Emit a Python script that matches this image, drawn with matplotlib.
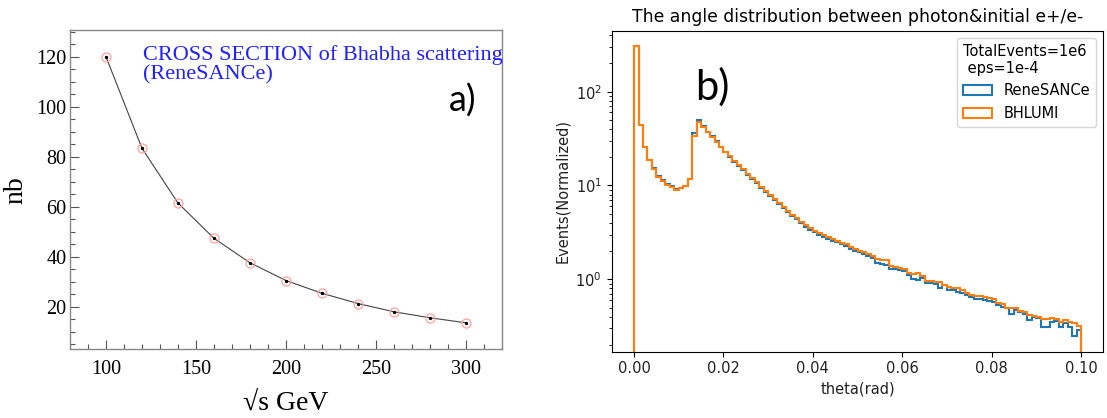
import matplotlib
matplotlib.use('Agg')
import matplotlib.pyplot as plt
import numpy as np
from matplotlib.patches import Patch
from matplotlib.ticker import MultipleLocator

# ---- panel a) : Bhabha cross section ----
sqrt_s = [100, 120, 140, 160, 180, 200, 220, 240, 260, 280, 300]
xsec_nb = [120.0, 83.4, 61.5, 47.4, 37.6, 30.5, 25.4, 21.3, 18.0, 15.6, 13.6]

# ---- panel b) : photon angle histogram, 100 bins on [0, 0.1] ----
theta_lo, theta_hi, n_bins = 0.0, 0.1, 100
renesance = [
    310, 44.0, 25.8, 18.8, 15.2, 12.6, 11.4, 10.3, 9.8, 9.1,
    9.3, 9.8, 11.6, 36.0, 50.0, 43.5, 37.5, 33.5, 29.5, 25.8,
    22.5, 20.0, 17.9, 16.1, 14.6, 13.0, 11.7, 10.5, 9.4, 8.45,
    7.65, 6.95, 6.3, 5.7, 5.2, 4.75, 4.35, 3.95, 3.62, 3.38,
    3.18, 3.0, 2.85, 2.7, 2.58, 2.48, 2.36, 2.24, 2.12, 2.02,
    1.93, 1.87, 1.78, 1.68, 1.5, 1.45, 1.42, 1.3, 1.28, 1.26,
    1.22, 1.1, 1.0, 0.98, 1.02, 0.92, 0.91, 0.89, 0.8, 0.86,
    0.77, 0.76, 0.74, 0.72, 0.68, 0.64, 0.62, 0.61, 0.6, 0.59,
    0.57, 0.53, 0.51, 0.49, 0.43, 0.47, 0.45, 0.43, 0.37, 0.4,
    0.39, 0.31, 0.31, 0.35, 0.355, 0.31, 0.34, 0.31, 0.25, 0.29,
]
bhlumi = [
    310, 44.5, 25.5, 18.6, 15.0, 12.4, 11.1, 10.2, 9.6, 9.0,
    9.3, 9.8, 11.6, 33.5, 47.0, 42.5, 37.0, 33.0, 29.0, 26.0,
    23.0, 20.6, 18.4, 16.6, 15.0, 13.4, 12.1, 10.8, 9.7, 8.7,
    7.9, 7.2, 6.5, 5.9, 5.35, 4.9, 4.5, 4.1, 3.75, 3.5,
    3.3, 3.1, 2.95, 2.8, 2.68, 2.58, 2.45, 2.35, 2.2, 2.1,
    2.0, 1.95, 1.88, 1.75, 1.65, 1.62, 1.6, 1.38, 1.34, 1.33,
    1.3, 1.18, 1.14, 1.16, 1.08, 0.96, 0.95, 0.94, 0.93, 0.86,
    0.82, 0.81, 0.81, 0.76, 0.72, 0.68, 0.67, 0.66, 0.65, 0.63,
    0.62, 0.56, 0.55, 0.5, 0.495, 0.49, 0.46, 0.45, 0.42, 0.41,
    0.4, 0.38, 0.375, 0.39, 0.375, 0.35, 0.37, 0.35, 0.345, 0.32,
]

SERIF = ['Liberation Serif', 'DejaVu Serif']
BLUE, ORANGE = '#1f77b4', '#ff7f0e'

fig = plt.figure(figsize=(11.07, 4.18), dpi=100)

# ---------------- left panel (ROOT style) ----------------
ax1 = fig.add_axes([0.0632, 0.1644, 0.3902, 0.7639])
ax1.plot(sqrt_s, xsec_nb, color='#444444', lw=0.8, zorder=2)
ax1.plot(sqrt_s, xsec_nb, ls='none', marker='o', ms=6.5, mfc='none',
         mec='#ffa0a0', mew=0.9, zorder=3)
ax1.plot(sqrt_s, xsec_nb, ls='none', marker='o', ms=1.4, color='black', zorder=4)
ax1.set_xlim(80, 320)
ax1.set_ylim(3, 130.7)
ax1.xaxis.set_major_locator(MultipleLocator(50))
ax1.xaxis.set_minor_locator(MultipleLocator(10))
ax1.yaxis.set_major_locator(MultipleLocator(20))
ax1.yaxis.set_minor_locator(MultipleLocator(5))
ax1.tick_params(which='both', direction='in', color='#555555', width=0.8)
ax1.tick_params(which='major', length=6.5)
ax1.tick_params(which='minor', length=3.5)
ax1.tick_params(axis='x', pad=8)
ax1.tick_params(axis='y', pad=2.5)
for lab in ax1.get_xticklabels() + ax1.get_yticklabels():
    lab.set_family(SERIF)
    lab.set_fontsize(14.5)
for sp in ax1.spines.values():
    sp.set_color('#888888')
    sp.set_linewidth(1.0)
ax1.set_xlabel('\u221as GeV', family=SERIF, fontsize=20)
ax1.xaxis.set_label_coords(0.5, -0.13)
ax1.set_ylabel('nb', family=SERIF, fontsize=20)
ax1.yaxis.set_label_coords(-0.097, 0.5)
ax1.text(0.168, 0.905, 'CROSS SECTION of Bhabha scattering', transform=ax1.transAxes,
         family=SERIF, fontsize=16, color='#2020ff', va='baseline')
ax1.text(0.168, 0.845, '(ReneSANCe)', transform=ax1.transAxes,
         family=SERIF, fontsize=16, color='#2020ff', va='baseline')
ax1.text(0.91, 0.78, 'a)', transform=ax1.transAxes, family=['Lato', 'DejaVu Sans'],
         fontsize=26, ha='center', va='center')

# ---------------- right panel (matplotlib style) ----------------
edges = np.linspace(theta_lo, theta_hi, n_bins + 1)
ax2 = fig.add_axes([0.5526, 0.1586, 0.4441, 0.768])
ax2.stairs(renesance, edges, color=BLUE, lw=1.5)
ax2.stairs(bhlumi, edges, color=ORANGE, lw=1.5)
ax2.set_yscale('log')
ax2.set_xlim(-0.005, 0.105)
ax2.set_ylim(0.169, 447)
ax2.set_xticks([0.0, 0.02, 0.04, 0.06, 0.08, 0.10])
ax2.tick_params(labelsize=10.5, labelcolor='#222222')
ax2.set_title('The angle distribution between photon&initial e+/e-', fontsize=12.4)
ax2.set_xlabel('theta(rad)', fontsize=10.5, color='#222222')
ax2.set_ylabel('Events(Normalized)', fontsize=10.5, color='#222222')

handles = [Patch(facecolor='none', edgecolor=BLUE, lw=1.5),
           Patch(facecolor='none', edgecolor=ORANGE, lw=1.5)]
leg = ax2.legend(handles, ['ReneSANCe', 'BHLUMI'],
                 title='TotalEvents=1e6\n eps=1e-4', loc='upper right',
                 fontsize=10.5, title_fontsize=10.5, alignment='left')
leg.get_title().set_multialignment('left')
ax2.text(0.0175, 0.825, 'b)', transform=ax2.get_xaxis_transform(),
         family=['Lato', 'DejaVu Sans'], fontsize=30, ha='center', va='center')

fig.savefig('out.png', dpi=100)
